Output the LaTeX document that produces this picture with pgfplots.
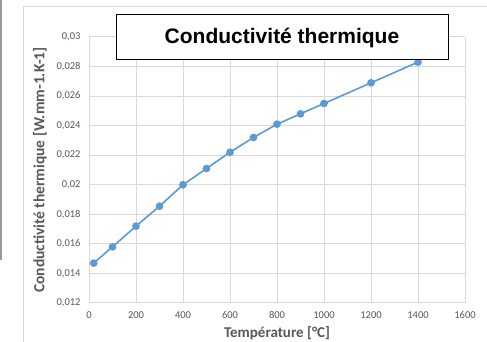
\documentclass[border=0pt]{standalone}
\usepackage{pgfplots}
\pgfplotsset{compat=1.18}
\usepackage{fontspec}
\setmainfont{Carlito}
\newfontfamily\arialf{Liberation Sans}
\definecolor{ln}{HTML}{5B9BD5}
\definecolor{gr}{HTML}{D9D9D9}
\definecolor{tx}{HTML}{595959}
\begin{document}
\begin{tikzpicture}[x=1pt,y=1pt]
\useasboundingbox (0,0) rectangle (487,342);
\fill[white] (0,0) rectangle (487,342);
\draw[gray!80,line width=1.5pt] (0.75,342) -- (0.75,82);
\draw[gr,line width=1pt] (23,-5) -- (23,335) -- (495,335);
\begin{axis}[
  at={(89pt,39pt)}, anchor=south west,
  scale only axis, width=376pt, height=266pt,
  xmin=0, xmax=1600, ymin=0.012, ymax=0.03,
  xtick={0,200,...,1600},
  ytick={0.012,0.014,0.016,0.018,0.02,0.022,0.024,0.026,0.028,0.03},
  yticklabels={{0,012},{0,014},{0,016},{0,018},{0,02},{0,022},{0,024},{0,026},{0,028},{0,03}},
  xticklabel style={font=\fontsize{10.5}{12}\selectfont, text=tx, yshift=-5pt},
  yticklabel style={font=\fontsize{10.5}{12}\selectfont, text=tx, xshift=-5pt},
  /pgf/number format/assume math mode=true,
  /pgf/number format/.cd, use comma, 1000 sep={}, /pgfplots/.cd,
  scaled y ticks=false,
  grid=major, major grid style={gr, line width=1pt},
  axis line style={draw=none},
  tick style={draw=none},
  xtick pos=bottom, ytick pos=left,
  xlabel={\bfseries Température [°C]},
  ylabel={\bfseries Conductivité thermique [W.mm-1.K-1]},
  xlabel style={font=\fontsize{15}{16}\selectfont, text=tx, inner sep=0pt, yshift=-4pt},
  ylabel style={font=\fontsize{15.5}{16}\selectfont, text=tx, yshift=3pt},
  clip=false,
]
\addplot[ln, line width=1.6pt, mark=*, mark size=3pt, mark options={fill=ln, draw=ln}] coordinates {
(20,0.0147) (100,0.0158) (200,0.0172) (300,0.01855) (400,0.0200) (500,0.0211)
(600,0.0222) (700,0.0232) (800,0.0241) (900,0.0248) (1000,0.0255) (1200,0.0269) (1400,0.0283)
};
\end{axis}
\draw[black, line width=1pt, fill=white] (116,282) rectangle (448,327);
\node[font=\arialf\bfseries\fontsize{21}{24}\selectfont] at (282,304.5) {Conductivité thermique};
\end{tikzpicture}
\end{document}
